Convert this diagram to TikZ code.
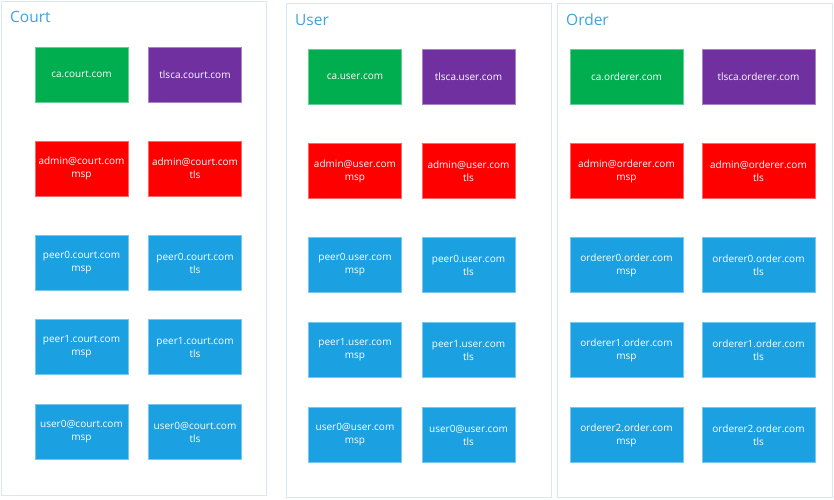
\documentclass[tikz,border=0pt]{standalone}
\usepackage{fontspec}
\setmainfont{Open Sans}
\definecolor{cgreen}{HTML}{00AD4F}
\definecolor{cpurple}{HTML}{7030A0}
\definecolor{cred}{HTML}{FF0000}
\definecolor{cblue}{HTML}{1BA1E2}
\definecolor{panelline}{HTML}{DAE6F4}
\definecolor{titleblue}{HTML}{3DA3DE}
\tikzset{
  box/.style={rectangle, minimum height=55pt, inner sep=0pt, align=center,
    text=white, font=\fontsize{10}{13}\selectfont, line width=0.6pt},
  gbox/.style={box, fill=cgreen, draw=cgreen!60!white},
  pbox/.style={box, fill=cpurple, draw=cpurple!60!white},
  rbox/.style={box, fill=cred, draw=cred!60!white},
  bbox/.style={box, fill=cblue, draw=cblue!60!white},
  panel/.style={draw=panelline, line width=1pt, fill=white},
  ptitle/.style={anchor=west, inner sep=0pt, text=titleblue, font=\fontsize{15.5}{18}\selectfont}
}
\begin{document}
\begin{tikzpicture}[x=1pt,y=-1pt]
\useasboundingbox (0,0) rectangle (834,499);
% panels
\draw[panel] (1.5,1.5) rectangle (266.5,495.5);
\draw[panel] (286.5,3.5) rectangle (551.5,497.5);
\draw[panel] (557.5,3.5) rectangle (832.5,497.5);
\node[ptitle] (tcourt) at (10,17) {Court};
\node[ptitle] (tuser) at (295,20) {User};
\node[ptitle] (torder) at (566,20) {Order};
% Court
\begin{scope}[every node/.append style={minimum width=93pt}]
\node[gbox] (c1a) at (81.5,74.5) {ca.court.com};
\node[pbox] (c1b) at (195,74.5) {tlsca.court.com};
\node[rbox] (c2a) at (81.5,168.5) {admin@court.com\\msp};
\node[rbox] (c2b) at (195,168.5) {admin@court.com\\tls};
\node[bbox] (c3a) at (81.5,263) {peer0.court.com\\msp};
\node[bbox] (c3b) at (195,263) {peer0.court.com\\tls};
\node[bbox] (c4a) at (81.5,347) {peer1.court.com\\msp};
\node[bbox] (c4b) at (195,347) {peer1.court.com\\tls};
\node[bbox] (c5a) at (81.5,432) {user0@court.com\\msp};
\node[bbox] (c5b) at (195,432) {user0@court.com\\tls};
% User
\node[gbox] (u1a) at (355,76.5) {ca.user.com};
\node[pbox] (u1b) at (468.5,76.5) {tlsca.user.com};
\node[rbox] (u2a) at (355,171) {admin@user.com\\msp};
\node[rbox] (u2b) at (468.5,171) {admin@user.com\\tls};
\node[bbox] (u3a) at (355,265) {peer0.user.com\\msp};
\node[bbox] (u3b) at (468.5,265) {peer0.user.com\\tls};
\node[bbox] (u4a) at (355,350) {peer1.user.com\\msp};
\node[bbox] (u4b) at (468.5,350) {peer1.user.com\\tls};
\node[bbox] (u5a) at (355,435) {user0@user.com\\msp};
\node[bbox] (u5b) at (468.5,435) {user0@user.com\\tls};
\end{scope}
% Order
\begin{scope}[every node/.append style={minimum width=113pt}]
\node[gbox] (o1a) at (626.5,76.5) {ca.orderer.com};
\node[pbox] (o1b) at (758.5,76.5) {tlsca.orderer.com};
\node[rbox] (o2a) at (626.5,171) {admin@orderer.com\\msp};
\node[rbox] (o2b) at (758.5,171) {admin@orderer.com\\tls};
\node[bbox] (o3a) at (626.5,265) {orderer0.order.com\\msp};
\node[bbox] (o3b) at (758.5,265) {orderer0.order.com\\tls};
\node[bbox] (o4a) at (626.5,350) {orderer1.order.com\\msp};
\node[bbox] (o4b) at (758.5,350) {orderer1.order.com\\tls};
\node[bbox] (o5a) at (626.5,435) {orderer2.order.com\\msp};
\node[bbox] (o5b) at (758.5,435) {orderer2.order.com\\tls};
\end{scope}
\end{tikzpicture}
\end{document}
